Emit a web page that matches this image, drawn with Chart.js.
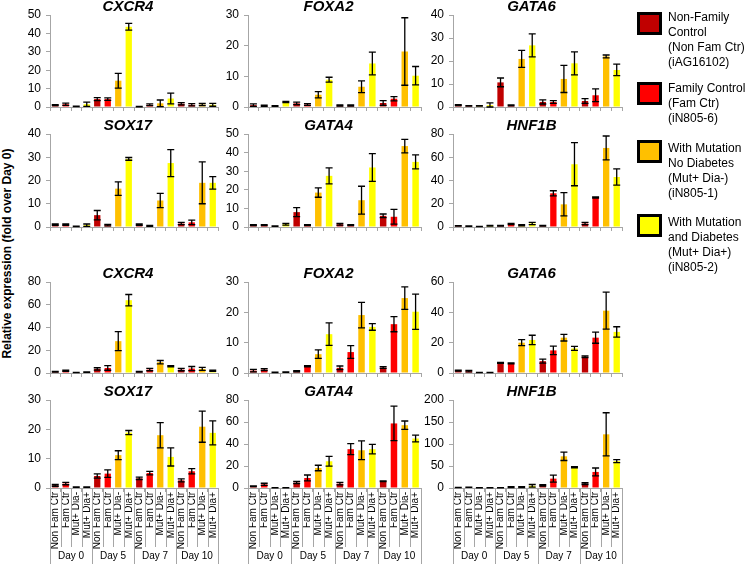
<!DOCTYPE html>
<html>
<head>
<meta charset="utf-8">
<script src="https://cdn.jsdelivr.net/npm/chart.js@4.4.1/dist/chart.umd.min.js"></script>
<style>
  body { margin: 0; background: #fff; font-family: "Liberation Sans", Arial, sans-serif; }
  #page { position: relative; width: 746px; height: 564px; overflow: hidden; }
  #page canvas { position: absolute; }
  .ytitle { position: absolute; width: 300px; left: -143px; top: 246px; text-align: center;
            font-weight: bold; font-size: 12px; line-height: 15px; transform: rotate(-90deg); white-space: nowrap; }
  .lg-box { position: absolute; left: 637px; width: 19px; height: 17px; border: 3px solid #000; }
  .lg-text { position: absolute; left: 668px; font-size: 12px; line-height: 15px; color: #000; white-space: nowrap; }
</style>
</head>
<body>
<div id="page">
  <div class="ytitle">Relative expression (fold over Day 0)</div>
</div>
<script>
// categories
const days = ['Day 0', 'Day 5', 'Day 7', 'Day 10'];
const lines = ['Non Fam Ctr', 'Fam Ctr', 'Mut+ Dia-', 'Mut+ Dia+'];
const lineColors = ['#C00000', '#FF0000', '#FFC000', '#FFFF00'];
const legendText = [
  ['Non-Family', 'Control', '(Non Fam Ctr)', '(iAG16102)'],
  ['Family Control', '(Fam Ctr)', '(iN805-6)'],
  ['With Mutation', 'No Diabetes', '(Mut+ Dia-)', '(iN805-1)'],
  ['With Mutation', 'and Diabetes', '(Mut+ Dia+)', '(iN805-2)']
];

// upper set (rows 1-2), 16 values = 4 days x 4 lines
const cxcr4Top    = [1.0, 1.5, 0.3, 1.5,  4.3, 4.3, 14.3, 43.6,  0.2, 1.2, 2.0, 4.6,  1.8, 1.2, 1.3, 1.2];
const cxcr4TopErr = [0.3, 0.6, 0.1, 1.2,  0.8, 0.7, 4.0, 1.8,  0.1, 0.5, 1.8, 2.9,  0.6, 0.6, 0.6, 0.8];
const foxa2Top    = [0.6, 0.4, 0.3, 1.6,  1.2, 0.8, 4.0, 8.9,  0.5, 0.5, 6.6, 14.2,  1.3, 2.7, 18.1, 10.2];
const foxa2TopErr = [0.4, 0.2, 0.1, 0.2,  0.4, 0.3, 1.0, 0.8,  0.2, 0.2, 1.9, 3.7,  0.8, 0.7, 11.0, 3.0];
const gata6Top    = [0.8, 0.5, 0.5, 0.8,  10.7, 0.7, 20.9, 26.8,  2.2, 2.2, 12.2, 19.0,  2.6, 5.1, 22.0, 16.1];
const gata6TopErr = [0.2, 0.1, 0.1, 1.0,  1.9, 0.2, 3.7, 5.0,  0.9, 0.6, 5.9, 5.0,  1.0, 2.8, 0.6, 2.5];
const sox17Top    = [1.0, 1.0, 0.3, 0.8,  5.1, 0.8, 16.5, 29.3,  1.0, 0.5, 11.4, 27.5,  1.5, 2.0, 19.0, 19.0];
const sox17TopErr = [0.3, 0.3, 0.1, 0.5,  2.0, 0.3, 2.9, 0.6,  0.3, 0.2, 3.1, 5.8,  0.5, 1.0, 9.0, 2.7];
const gata4Top    = [1.0, 1.0, 0.5, 1.5,  8.0, 1.0, 18.5, 27.5,  1.5, 1.0, 14.4, 32.0,  6.0, 5.5, 43.5, 35.0];
const gata4TopErr = [0.3, 0.3, 0.1, 0.5,  2.4, 0.3, 2.5, 4.3,  0.5, 0.3, 7.5, 7.5,  1.0, 4.0, 3.6, 3.8];
const hnf1bTop    = [1.0, 0.8, 0.5, 1.0,  1.0, 2.5, 1.5, 3.0,  1.0, 29.0, 19.5, 54.0,  3.0, 25.4, 68.0, 43.0];
const hnf1bTopErr = [0.2, 0.2, 0.1, 0.3,  0.3, 0.5, 0.5, 1.0,  0.3, 2.2, 10.0, 18.5,  1.0, 0.6, 10.3, 7.0];

// lower set (rows 3-4)
const cxcr4Bot    = [1.2, 2.0, 0.5, 0.7,  3.6, 4.4, 28.0, 64.0,  1.2, 3.0, 9.5, 5.9,  3.0, 3.9, 3.6, 2.0];
const cxcr4BotErr = [0.3, 0.5, 0.1, 0.2,  1.0, 2.0, 8.3, 5.0,  0.3, 1.0, 1.5, 0.6,  1.0, 1.8, 1.3, 0.5];
const foxa2Bot    = [0.8, 1.1, 0.2, 0.3,  0.6, 2.2, 6.2, 12.8,  1.7, 6.9, 19.1, 15.2,  1.8, 16.1, 24.7, 20.2];
const foxa2BotErr = [0.4, 0.3, 0.1, 0.1,  0.2, 0.2, 1.4, 3.7,  0.6, 2.1, 4.2, 1.1,  0.3, 2.5, 3.7, 5.8];
const gata6Bot    = [1.5, 1.2, 0.3, 0.3,  6.7, 6.4, 20.0, 21.8,  7.8, 14.9, 23.3, 16.2,  10.7, 23.3, 41.1, 27.1];
const gata6BotErr = [0.3, 0.5, 0.1, 0.1,  0.3, 0.3, 2.0, 3.1,  1.3, 2.8, 2.2, 1.3,  0.5, 3.7, 12.2, 3.4];
const sox17Bot    = [0.9, 1.5, 0.3, 0.3,  4.1, 4.9, 11.2, 18.9,  3.3, 5.1, 18.0, 10.6,  2.6, 5.7, 20.9, 18.8];
const sox17BotErr = [0.3, 0.4, 0.1, 0.1,  0.7, 1.3, 1.5, 0.7,  0.4, 0.6, 4.3, 3.1,  0.5, 0.9, 5.3, 4.1];
const gata4Bot    = [1.5, 3.3, 0.2, 0.3,  4.9, 9.1, 18.2, 24.3,  4.0, 35.3, 34.3, 35.3,  6.1, 58.7, 57.1, 45.0];
const gata4BotErr = [0.3, 1.0, 0.1, 0.1,  1.0, 2.7, 2.5, 4.5,  1.2, 5.0, 8.5, 4.3,  0.3, 15.7, 3.8, 3.0];
const hnf1bBot    = [1.0, 1.5, 0.5, 0.8,  0.5, 2.0, 2.0, 5.0,  6.0, 21.3, 72.0, 47.1,  9.9, 36.5, 122.0, 61.0];
const hnf1bBotErr = [0.2, 0.3, 0.1, 0.2,  0.2, 1.0, 1.0, 3.0,  1.5, 8.0, 9.5, 1.5,  2.0, 9.0, 49.0, 3.5];

const panels = [
  {gene: 'CXCR4', data: cxcr4Top, err: cxcr4TopErr, max: 50,  step: 10, row: 0, col: 0},
  {gene: 'FOXA2', data: foxa2Top, err: foxa2TopErr, max: 30,  step: 10, row: 0, col: 1},
  {gene: 'GATA6', data: gata6Top, err: gata6TopErr, max: 40,  step: 10, row: 0, col: 2},
  {gene: 'SOX17', data: sox17Top, err: sox17TopErr, max: 40,  step: 10, row: 1, col: 0},
  {gene: 'GATA4', data: gata4Top, err: gata4TopErr, max: 50,  step: 10, row: 1, col: 1},
  {gene: 'HNF1B', data: hnf1bTop, err: hnf1bTopErr, max: 80,  step: 20, row: 1, col: 2},
  {gene: 'CXCR4', data: cxcr4Bot, err: cxcr4BotErr, max: 80,  step: 20, row: 2, col: 0},
  {gene: 'FOXA2', data: foxa2Bot, err: foxa2BotErr, max: 30,  step: 10, row: 2, col: 1},
  {gene: 'GATA6', data: gata6Bot, err: gata6BotErr, max: 60,  step: 20, row: 2, col: 2},
  {gene: 'SOX17', data: sox17Bot, err: sox17BotErr, max: 30,  step: 10, row: 3, col: 0},
  {gene: 'GATA4', data: gata4Bot, err: gata4BotErr, max: 80,  step: 20, row: 3, col: 1},
  {gene: 'HNF1B', data: hnf1bBot, err: hnf1bBotErr, max: 200, step: 50, row: 3, col: 2}
];

// plot area placement
const colLeft = [50, 248, 453], colRight = [218, 421, 622];
const rowTop = [15, 134, 282, 400], rowBottom = [107, 227, 373, 488];
const Y_W = 32, PAD_T = 20, PAD_R = 8, PAGE_H = 564;
const AXIS = '#A6A6A6';

Chart.defaults.font.family = '"Liberation Sans", Arial, sans-serif';
Chart.defaults.color = '#000';

const labels = days.flatMap(() => lines);
const barColors = days.flatMap(() => lineColors);

const panelTitle = {
  id: 'panelTitle',
  afterDraw(chart, args, opts) {
    const {ctx, chartArea} = chart;
    ctx.save();
    ctx.font = 'italic bold 15px "Liberation Sans", Arial, sans-serif';
    ctx.textAlign = 'center';
    ctx.textBaseline = 'middle';
    ctx.fillStyle = '#000';
    ctx.fillText(opts.text, (chartArea.left + chartArea.right) / 2 - 6, chartArea.top - 8);
    ctx.restore();
  }
};

const errorBars = {
  id: 'errorBars',
  afterDatasetsDraw(chart, args, opts) {
    const {ctx} = chart;
    const y = chart.scales.y;
    const vals = chart.data.datasets[0].data;
    ctx.save();
    ctx.strokeStyle = '#000';
    ctx.lineWidth = 1.3;
    chart.getDatasetMeta(0).data.forEach((bar, i) => {
      const hi = y.getPixelForValue(vals[i] + opts.errors[i]);
      const lo = y.getPixelForValue(Math.max(0, vals[i] - opts.errors[i]));
      const cw = 3.5;
      ctx.beginPath();
      ctx.moveTo(bar.x, hi); ctx.lineTo(bar.x, lo);
      ctx.moveTo(bar.x - cw, hi); ctx.lineTo(bar.x + cw, hi);
      ctx.moveTo(bar.x - cw, lo); ctx.lineTo(bar.x + cw, lo);
      ctx.stroke();
    });
    ctx.restore();
  }
};

// day brackets under the rotated labels on the bottom row
const dayGroups = {
  id: 'dayGroups',
  afterDraw(chart, args, opts) {
    if (!opts.show) return;
    const {ctx} = chart;
    const x = chart.scales.x;
    const n = labels.length;
    const cw = x.width / n;
    const base = chart.chartArea.bottom;
    const labBottom = base + 59;
    ctx.save();
    ctx.strokeStyle = AXIS;
    ctx.lineWidth = 1;
    for (let i = 0; i <= n; i++) {
      const px = Math.round(x.left + i * cw) + 0.5;
      ctx.beginPath();
      ctx.moveTo(px, base);
      ctx.lineTo(px, i % lines.length === 0 ? chart.height : labBottom);
      ctx.stroke();
    }
    ctx.fillStyle = '#000';
    ctx.font = '10px "Liberation Sans", Arial, sans-serif';
    ctx.textAlign = 'center';
    ctx.textBaseline = 'middle';
    days.forEach((d, g) => {
      const cx = x.left + (g * lines.length + lines.length / 2) * cw;
      ctx.fillText(d, cx, (labBottom + chart.height) / 2 + 1);
    });
    ctx.restore();
  }
};

const page = document.getElementById('page');

panels.forEach(p => {
  const bottomRow = p.row === 3;
  const xH = bottomRow ? PAGE_H - rowBottom[p.row] : 16;
  const w = Y_W + colRight[p.col] - colLeft[p.col] + PAD_R;
  const h = PAD_T + rowBottom[p.row] - rowTop[p.row] + xH;
  const cv = document.createElement('canvas');
  cv.width = w; cv.height = h;
  cv.style.left = (colLeft[p.col] - Y_W) + 'px';
  cv.style.top = (rowTop[p.row] - PAD_T) + 'px';
  page.appendChild(cv);

  new Chart(cv.getContext('2d'), {
    type: 'bar',
    data: {
      labels: labels,
      datasets: [{
        data: p.data,
        backgroundColor: barColors,
        borderWidth: 0,
        categoryPercentage: 1,
        barPercentage: 0.6
      }]
    },
    options: {
      responsive: false,
      animation: false,
      events: [],
      layout: {padding: {top: PAD_T, right: PAD_R, left: 0, bottom: 0}},
      plugins: {
        legend: {display: false},
        tooltip: {enabled: false},
        panelTitle: {text: p.gene},
        errorBars: {errors: p.err},
        dayGroups: {show: bottomRow}
      },
      scales: {
        x: {
          grid: {drawOnChartArea: false, tickLength: 4, color: AXIS},
          border: {color: AXIS},
          ticks: {display: bottomRow, autoSkip: false, minRotation: 90, maxRotation: 90,
                  padding: 0, font: {size: 10}},
          afterFit: s => { s.height = xH; }
        },
        y: {
          min: 0, max: p.max,
          grid: {drawOnChartArea: false, tickLength: 4, color: AXIS},
          border: {color: AXIS},
          ticks: {stepSize: p.step, padding: 5, font: {size: 12}},
          afterFit: s => { s.width = Y_W; }
        }
      }
    },
    plugins: [panelTitle, errorBars, dayGroups]
  });
});

// legend
const boxTops = [12, 82, 140, 214];
const textTops = [10, 81, 141, 215];
legendText.forEach((txt, i) => {
  const box = document.createElement('div');
  box.className = 'lg-box';
  box.style.top = boxTops[i] + 'px';
  box.style.background = lineColors[i];
  page.appendChild(box);
  const t = document.createElement('div');
  t.className = 'lg-text';
  t.style.top = textTops[i] + 'px';
  t.innerHTML = txt.join('<br>');
  page.appendChild(t);
});
</script>
</body>
</html>
